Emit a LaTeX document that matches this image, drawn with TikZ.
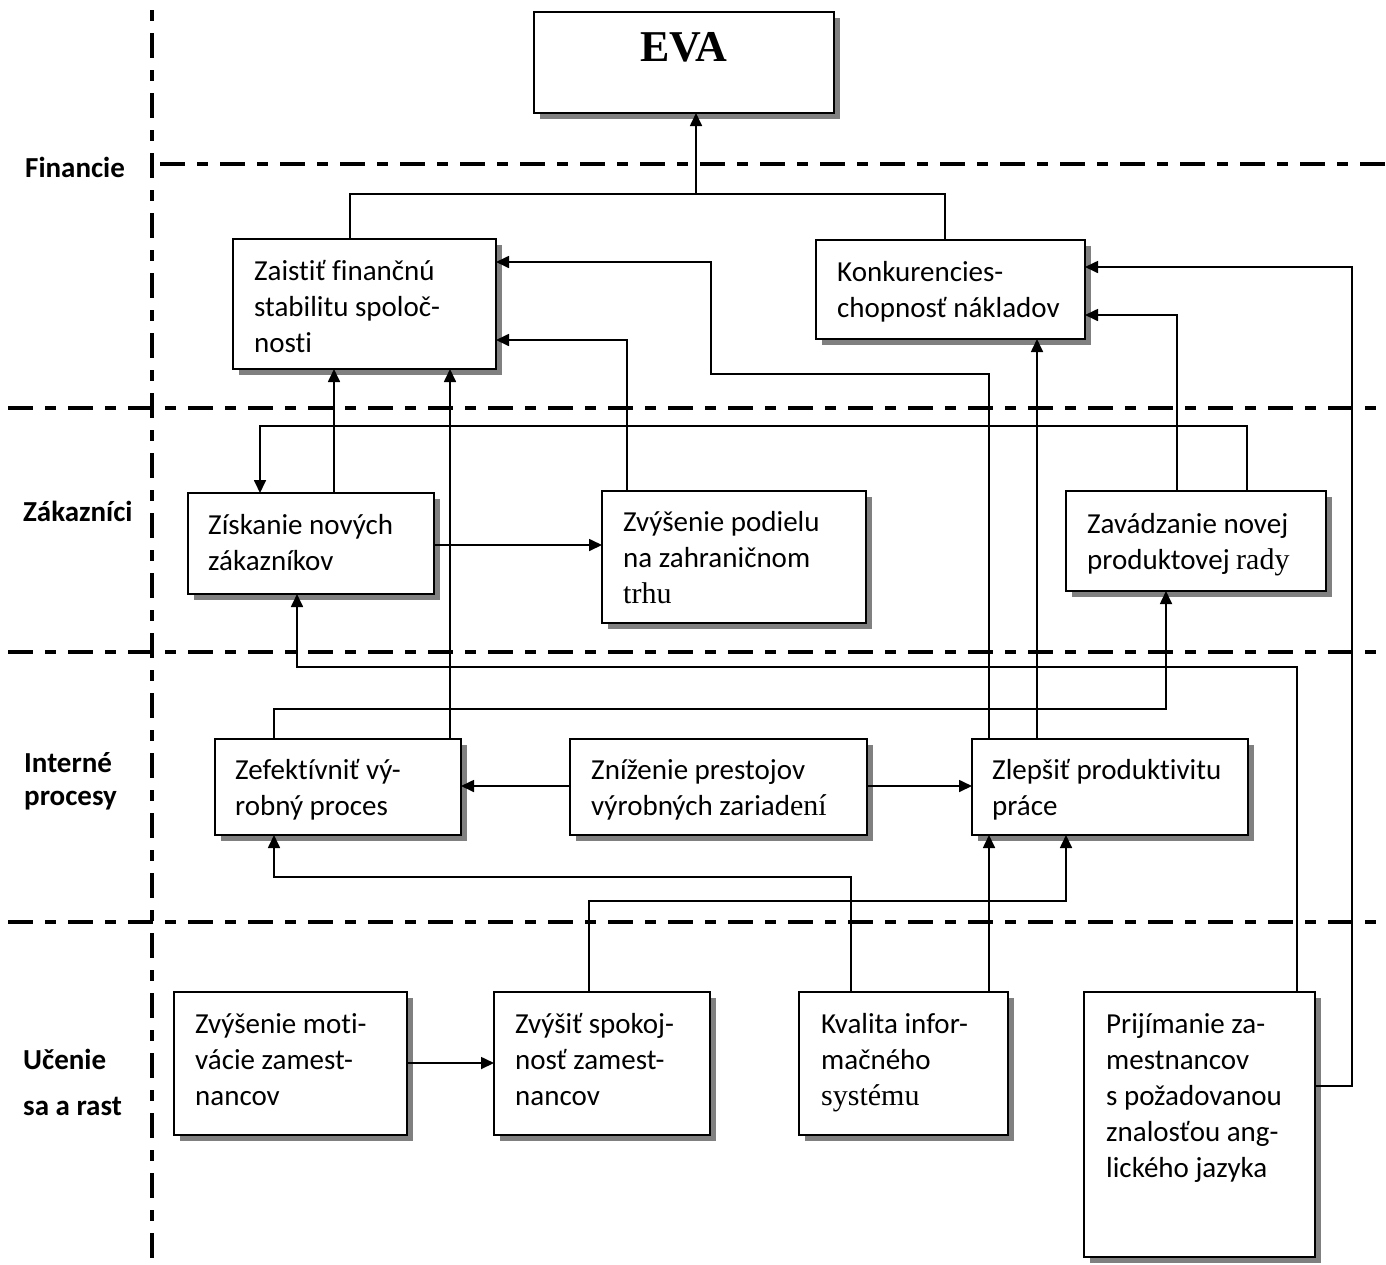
\documentclass[tikz,border=0pt]{standalone}
\usepackage{fontspec}
\setmainfont{Carlito}[Ligatures=NoCommon]
\newfontfamily\tnr{Liberation Serif}
\usetikzlibrary{arrows.meta,shadows}
\newcommand\strutA{\rule{0pt}{26pt}}
\begin{document}
\begin{tikzpicture}[x=1pt,y=-1pt,
  box/.style={draw, line width=1.8pt, fill=white, outer sep=0pt, inner sep=0pt, anchor=north west,
    drop shadow={shadow xshift=6pt, shadow yshift=-6pt, fill=black!50, opacity=1}},
  txt/.style={anchor=north west, inner sep=0pt, align=left, font=\fontsize{29}{36}\selectfont},
  lbl/.style={anchor=base west, inner sep=0pt, font=\bfseries\fontsize{29}{35}\selectfont},
  conn/.style={line width=1.7pt},
  arr/.style={conn, -{Triangle[length=13pt,width=12pt]}},
  lane/.style={line width=4.8pt, dash pattern=on 25pt off 12pt on 11pt off 12pt},
]
\useasboundingbox (0,0) rectangle (1386,1264);
\fill[white] (0,0) rectangle (1386,1264);

% lane separators
\draw[lane] (160,164) -- (1386,164);
\draw[lane] (8,408) -- (1386,408);
\draw[lane] (8,652) -- (1386,652);
\draw[lane] (8,922) -- (1386,922);
\draw[lane, dash phase=37pt] (152,10) -- (152,1264);

% lane labels
\node[lbl] (lfin) at (25,177) {Financie};
\node[lbl] (lzak) at (23,521) {Zákazníci};
\node[lbl] (lint1) at (24,772) {Interné};
\node[lbl] (lint2) at (24,805) {procesy};
\node[lbl] (luc1) at (23,1069) {Učenie};
\node[lbl] (luc2) at (23,1115) {sa a rast};

% boxes
\node[box, minimum width=300pt, minimum height=101pt] (eva) at (534,12) {};
\node[inner sep=0pt, font=\tnr\bfseries\fontsize{44}{50}\selectfont] (evaT) at (684,47) {EVA};

\node[box, minimum width=263pt, minimum height=130pt] (zaist) at (233,239) {};
\node[txt] (zaistT) at ([shift={(21,15)}]zaist.north west) {\strutA Zaistiť finančnú\\stabilitu spoloč-\\nosti};

\node[box, minimum width=269pt, minimum height=99pt] (konk) at (816,240) {};
\node[txt] (konkT) at ([shift={(21,15)}]konk.north west) {\strutA Konkurencies-\\chopnosť nákladov};

\node[box, minimum width=246pt, minimum height=101pt] (ziskan) at (188,493) {};
\node[txt] (ziskanT) at ([shift={(20,15)}]ziskan.north west) {\strutA Získanie nových\\zákazníkov};

\node[box, minimum width=264pt, minimum height=132pt] (podiel) at (602,491) {};
\node[txt] (podielT) at ([shift={(21,14)}]podiel.north west) {\strutA Zvýšenie podielu\\na zahraničnom\\{\tnr\fontsize{30}{36}\selectfont trhu}};

\node[box, minimum width=260pt, minimum height=100pt] (zavad) at (1066,491) {};
\node[txt] (zavadT) at ([shift={(21,16)}]zavad.north west) {\strutA Zavádzanie novej\\produktovej {\tnr\fontsize{30}{36}\selectfont rady}};

\node[box, minimum width=246pt, minimum height=96pt] (zefekt) at (215,739) {};
\node[txt] (zefektT) at ([shift={(20,14)}]zefekt.north west) {\strutA Zefektívniť vý-\\robný proces};

\node[box, minimum width=297pt, minimum height=96pt] (znizen) at (570,739) {};
\node[txt] (znizenT) at ([shift={(21,14)}]znizen.north west) {\strutA Zníženie prestojov\\výrobných zariad{\tnr\fontsize{30}{36}\selectfont ení}};

\node[box, minimum width=276pt, minimum height=96pt] (zlepsit) at (972,739) {};
\node[txt] (zlepsitT) at ([shift={(20,14)}]zlepsit.north west) {\strutA Zlepšiť produktivitu\\práce};

\node[box, minimum width=233pt, minimum height=143pt] (motiv) at (174,992) {};
\node[txt] (motivT) at ([shift={(21,15)}]motiv.north west) {\strutA Zvýšenie moti-\\vácie zamest-\\nancov};

\node[box, minimum width=216pt, minimum height=143pt] (spokoj) at (494,992) {};
\node[txt] (spokojT) at ([shift={(21,15)}]spokoj.north west) {\strutA Zvýšiť spokoj-\\nosť zamest-\\nancov};

\node[box, minimum width=209pt, minimum height=143pt] (kvalita) at (799,992) {};
\node[txt] (kvalitaT) at ([shift={(22,15)}]kvalita.north west) {\strutA Kvalita infor-\\mačného\\{\tnr\fontsize{30}{36}\selectfont systému}};

\node[box, minimum width=231pt, minimum height=265pt] (prijim) at (1084,992) {};
\node[txt] (prijimT) at ([shift={(22,15)}]prijim.north west) {\strutA Prijímanie za-\\mestnancov\\s požadovanou\\znalosťou ang-\\lického jazyka};

% connectors
\coordinate (jn) at (696,194);
\draw[conn] (350,0 |- zaist.north) |- (jn) -| (945,0 |- konk.north);
\draw[arr] (jn) -- (696,0 |- eva.south);

\draw[arr] (334,0 |- ziskan.north) -- (334,0 |- zaist.south);
\draw[arr] (450,0 |- zefekt.north) -- (450,0 |- zaist.south);
\draw[arr] (627,0 |- podiel.north) |- (zaist.east |- 0,340);
\draw[arr] (989,0 |- zlepsit.north) |- (711,374) |- (zaist.east |- 0,262);
\draw[arr] (1037,0 |- zlepsit.north) -- (1037,0 |- konk.south);
\draw[arr] (1177,0 |- zavad.north) |- (konk.east |- 0,315);
\draw[arr] (prijim.east |- 0,1086) -| (1352,267) -- (konk.east |- 0,267);
\draw[arr] (1247,0 |- zavad.north) |- (260,426) -- (260,0 |- ziskan.north);
\draw[arr] (ziskan.east |- 0,545) -- (podiel.west |- 0,545);
\draw[arr] (1297,0 |- prijim.north) |- (297,667) -- (297,0 |- ziskan.south);
\draw[arr] (274,0 |- zefekt.north) |- (1166,709) -- (1166,0 |- zavad.south);
\draw[arr] (znizen.west |- 0,786) -- (zefekt.east |- 0,786);
\draw[arr] (znizen.east |- 0,786) -- (zlepsit.west |- 0,786);
\draw[arr] (851,0 |- kvalita.north) |- (274,877) -- (274,0 |- zefekt.south);
\draw[arr] (989,0 |- kvalita.north) -- (989,0 |- zlepsit.south);
\draw[arr] (589,0 |- spokoj.north) |- (1066,901) -- (1066,0 |- zlepsit.south);
\draw[arr] (motiv.east |- 0,1063) -- (spokoj.west |- 0,1063);
\end{tikzpicture}
\end{document}
